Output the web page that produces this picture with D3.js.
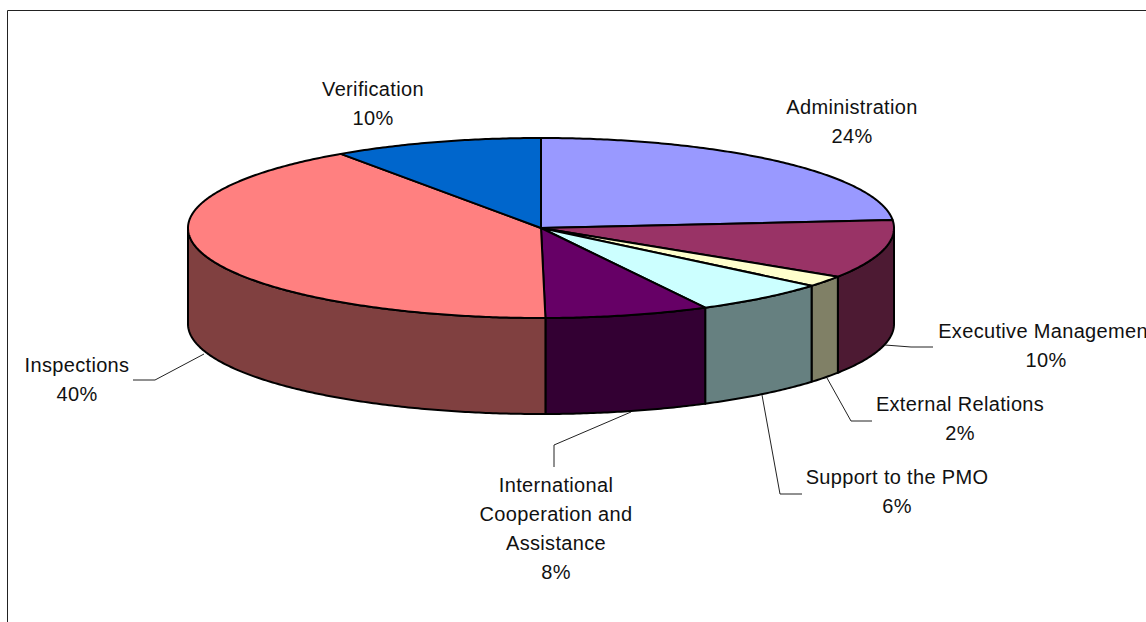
<!DOCTYPE html>
<html>
<head>
<meta charset="utf-8">
<style>
html,body{margin:0;padding:0;background:#fff;overflow:hidden}
svg{display:block}
text{font-family:"Liberation Sans",Arial,sans-serif;font-size:20px;letter-spacing:.33px;fill:#111;text-anchor:middle}
</style>
</head>
<body>
<svg id="c" width="1146" height="622"></svg>
<script src="https://cdn.jsdelivr.net/npm/d3@7/dist/d3.min.js"></script>
<script>
const categories = ["Administration","Executive Management","External Relations","Support to the PMO","International Cooperation and Assistance","Inspections","Verification"];
const values = [23.6,10.5,2.0,6.2,7.5,40.6,9.6];
const percentLabels = ["24%","10%","2%","6%","8%","40%","10%"];
const topColors = ["#9999FF","#993366","#FFFFCC","#CCFFFF","#660066","#FF8080","#0066CC"];
const sideColors = ["#4D4D80","#4D1A33","#808066","#668080","#330033","#804040","#003366"];
const labelLines = [["Administration"],["Executive Management"],["External Relations"],["Support to the PMO"],["International","Cooperation and","Assistance"],["Inspections"],["Verification"]];
const labelAnchors = [[852,107],[1046,331],[960,404],[897,477],[556,485],[77,365],[373,89]];
const leaderLines = [null,[[885,345],[911,347],[933,347]],[[827,378],[851,421],[872,421]],[[762,395],[780,494],[802,494]],[[631,412],[554,445],[554,467]],[[204,354],[155,380],[133,380]],null];

const cx=541, cy=228, rx=353, ry=90, depth=96, lineGap=29;
const svg=d3.select("#c");

// frame (only top and left edges fall inside the window)
svg.append("path").attr("d","M7.5,622V10.5H1146").attr("fill","none").attr("stroke","#222").attr("stroke-width",1);

const arcs=d3.pie().sort(null).value(d=>d)(values);
const px=d3.scaleLinear().domain([-1,1]).range([cx-rx,cx+rx]);
const py=d3.scaleLinear().domain([-1,1]).range([cy-ry,cy+ry]);
const line=d3.line().x(d=>d[0]).y(d=>d[1]);
const pt=(t,dy=0)=>[px(Math.sin(t)),py(-Math.cos(t))+dy];
const samples=(a,b)=>{const n=Math.max(2,Math.ceil((b-a)/0.01));return d3.range(n+1).map(i=>a+(b-a)*i/n);};

const g=svg.append("g").attr("stroke","#000").attr("stroke-width",2).attr("stroke-linejoin","round");
const H=Math.PI/2, T=3*Math.PI/2;
// side walls: only the front half (90deg..270deg) is visible
arcs.forEach((a,i)=>{
  const s=Math.max(a.startAngle,H), e=Math.min(a.endAngle,T);
  if(e<=s) return;
  const ts=samples(s,e);
  const pts=ts.map(t=>pt(t)).concat(ts.slice().reverse().map(t=>pt(t,depth)));
  g.append("path").attr("d",line(pts)+"Z").attr("fill",sideColors[i]);
});
// top face
arcs.forEach((a,i)=>{
  const pts=[[cx,cy]].concat(samples(a.startAngle,a.endAngle).map(t=>pt(t)));
  g.append("path").attr("d",line(pts)+"Z").attr("fill",topColors[i]);
});
// leaders
leaderLines.forEach(l=>{
  if(l) svg.append("path").attr("d",line(l)).attr("fill","none").attr("stroke","#222").attr("stroke-width",1);
});
// labels
categories.forEach((c,i)=>{
  const [x,y]=labelAnchors[i];
  const lines=labelLines[i].concat(percentLabels[i]);
  const t=svg.append("text").attr("x",x).attr("y",y+7);
  lines.forEach((s,k)=>t.append("tspan").attr("x",x).attr("y",y+7+k*lineGap).text(s));
});
</script>
</body>
</html>
